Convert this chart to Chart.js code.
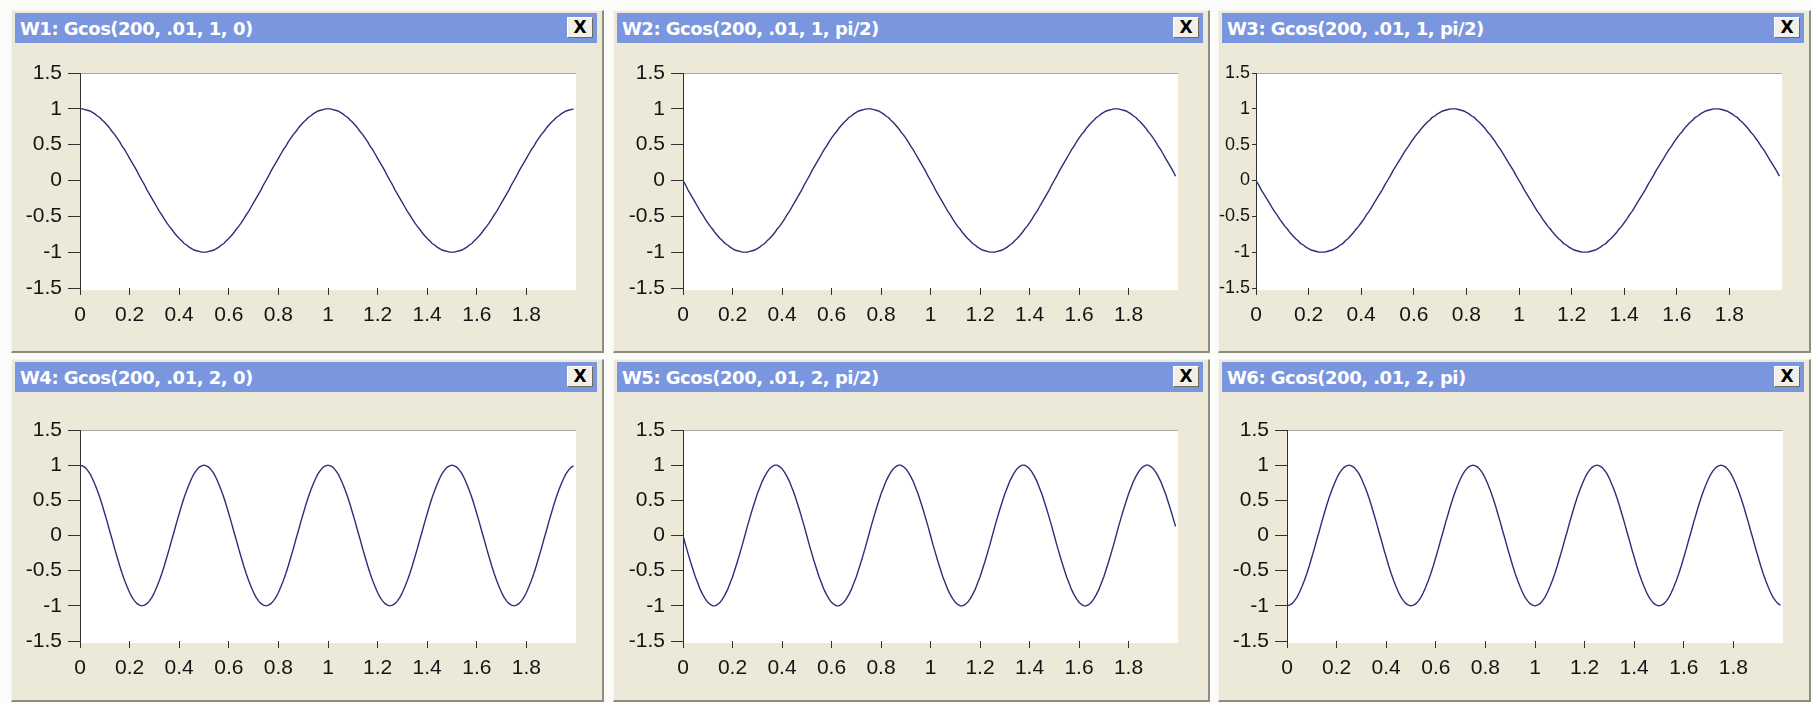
<!DOCTYPE html>
<html><head><meta charset="utf-8">
<script src="https://cdn.jsdelivr.net/npm/chart.js@4.4.1/dist/chart.umd.min.js"></script>
<style>
html,body{margin:0;padding:0;background:#fbfbf9;width:1812px;height:703px;overflow:hidden;}
.panel{position:absolute;background:#ece9d8;box-sizing:border-box;border-top:1px solid #f6f5ef;border-left:1px solid #f6f5ef;border-right:2px solid #8f8d80;border-bottom:2px solid #8f8d80;}
.title{position:absolute;height:30px;background:#7a96df;color:#fff;font:bold 18px "DejaVu Sans";letter-spacing:-0.5px;line-height:31px;padding-left:5px;box-sizing:border-box;white-space:nowrap;}
.close{position:absolute;top:4px;right:4px;width:26px;height:21px;background:#f1efe6;border:1px solid #ffffff;border-right-color:#6d6b60;border-bottom-color:#6d6b60;box-sizing:border-box;font:bold 17px "DejaVu Sans";letter-spacing:0;line-height:19px;text-align:center;color:#000;}
canvas{position:absolute;}
</style></head><body>
<script>
// sample times (s)
const tValues = [0,.01,.02,.03,.04,.05,.06,.07,.08,.09,.1,.11,.12,.13,.14,.15,.16,.17,.18,.19,.2,.21,.22,.23,.24,.25,.26,.27,.28,.29,.3,.31,.32,.33,.34,.35,.36,.37,.38,.39,.4,.41,.42,.43,.44,.45,.46,.47,.48,.49,.5,.51,.52,.53,.54,.55,.56,.57,.58,.59,.6,.61,.62,.63,.64,.65,.66,.67,.68,.69,.7,.71,.72,.73,.74,.75,.76,.77,.78,.79,.8,.81,.82,.83,.84,.85,.86,.87,.88,.89,.9,.91,.92,.93,.94,.95,.96,.97,.98,.99,
1,1.01,1.02,1.03,1.04,1.05,1.06,1.07,1.08,1.09,1.1,1.11,1.12,1.13,1.14,1.15,1.16,1.17,1.18,1.19,1.2,1.21,1.22,1.23,1.24,1.25,1.26,1.27,1.28,1.29,1.3,1.31,1.32,1.33,1.34,1.35,1.36,1.37,1.38,1.39,1.4,1.41,1.42,1.43,1.44,1.45,1.46,1.47,1.48,1.49,1.5,1.51,1.52,1.53,1.54,1.55,1.56,1.57,1.58,1.59,1.6,1.61,1.62,1.63,1.64,1.65,1.66,1.67,1.68,1.69,1.7,1.71,1.72,1.73,1.74,1.75,1.76,1.77,1.78,1.79,1.8,1.81,1.82,1.83,1.84,1.85,1.86,1.87,1.88,1.89,1.9,1.91,1.92,1.93,1.94,1.95,1.96,1.97,1.98,1.99];

const w1Values = [
1,1,.99,.98,.97,.95,.93,.9,.88,.84,.81,.77,.73,.68,.64,.59,.54,.48,.43,.37,.31,.25,.19,.13,.06,
0,-.06,-.13,-.19,-.25,-.31,-.37,-.43,-.48,-.54,-.59,-.64,-.68,-.73,-.77,-.81,-.84,-.88,-.9,-.93,-.95,-.97,-.98,-.99,-1,
-1,-1,-.99,-.98,-.97,-.95,-.93,-.9,-.88,-.84,-.81,-.77,-.73,-.68,-.64,-.59,-.54,-.48,-.43,-.37,-.31,-.25,-.19,-.13,-.06,
0,.06,.13,.19,.25,.31,.37,.43,.48,.54,.59,.64,.68,.73,.77,.81,.84,.88,.9,.93,.95,.97,.98,.99,1,
1,1,.99,.98,.97,.95,.93,.9,.88,.84,.81,.77,.73,.68,.64,.59,.54,.48,.43,.37,.31,.25,.19,.13,.06,
0,-.06,-.13,-.19,-.25,-.31,-.37,-.43,-.48,-.54,-.59,-.64,-.68,-.73,-.77,-.81,-.84,-.88,-.9,-.93,-.95,-.97,-.98,-.99,-1,
-1,-1,-.99,-.98,-.97,-.95,-.93,-.9,-.88,-.84,-.81,-.77,-.73,-.68,-.64,-.59,-.54,-.48,-.43,-.37,-.31,-.25,-.19,-.13,-.06,
0,.06,.13,.19,.25,.31,.37,.43,.48,.54,.59,.64,.68,.73,.77,.81,.84,.88,.9,.93,.95,.97,.98,.99,1];

const w2Values = [
0,-.06,-.13,-.19,-.25,-.31,-.37,-.43,-.48,-.54,-.59,-.64,-.68,-.73,-.77,-.81,-.84,-.88,-.9,-.93,-.95,-.97,-.98,-.99,-1,
-1,-1,-.99,-.98,-.97,-.95,-.93,-.9,-.88,-.84,-.81,-.77,-.73,-.68,-.64,-.59,-.54,-.48,-.43,-.37,-.31,-.25,-.19,-.13,-.06,
0,.06,.13,.19,.25,.31,.37,.43,.48,.54,.59,.64,.68,.73,.77,.81,.84,.88,.9,.93,.95,.97,.98,.99,1,
1,1,.99,.98,.97,.95,.93,.9,.88,.84,.81,.77,.73,.68,.64,.59,.54,.48,.43,.37,.31,.25,.19,.13,.06,
0,-.06,-.13,-.19,-.25,-.31,-.37,-.43,-.48,-.54,-.59,-.64,-.68,-.73,-.77,-.81,-.84,-.88,-.9,-.93,-.95,-.97,-.98,-.99,-1,
-1,-1,-.99,-.98,-.97,-.95,-.93,-.9,-.88,-.84,-.81,-.77,-.73,-.68,-.64,-.59,-.54,-.48,-.43,-.37,-.31,-.25,-.19,-.13,-.06,
0,.06,.13,.19,.25,.31,.37,.43,.48,.54,.59,.64,.68,.73,.77,.81,.84,.88,.9,.93,.95,.97,.98,.99,1,
1,1,.99,.98,.97,.95,.93,.9,.88,.84,.81,.77,.73,.68,.64,.59,.54,.48,.43,.37,.31,.25,.19,.13,.06];

const w3Values = [
0,-.06,-.13,-.19,-.25,-.31,-.37,-.43,-.48,-.54,-.59,-.64,-.68,-.73,-.77,-.81,-.84,-.88,-.9,-.93,-.95,-.97,-.98,-.99,-1,
-1,-1,-.99,-.98,-.97,-.95,-.93,-.9,-.88,-.84,-.81,-.77,-.73,-.68,-.64,-.59,-.54,-.48,-.43,-.37,-.31,-.25,-.19,-.13,-.06,
0,.06,.13,.19,.25,.31,.37,.43,.48,.54,.59,.64,.68,.73,.77,.81,.84,.88,.9,.93,.95,.97,.98,.99,1,
1,1,.99,.98,.97,.95,.93,.9,.88,.84,.81,.77,.73,.68,.64,.59,.54,.48,.43,.37,.31,.25,.19,.13,.06,
0,-.06,-.13,-.19,-.25,-.31,-.37,-.43,-.48,-.54,-.59,-.64,-.68,-.73,-.77,-.81,-.84,-.88,-.9,-.93,-.95,-.97,-.98,-.99,-1,
-1,-1,-.99,-.98,-.97,-.95,-.93,-.9,-.88,-.84,-.81,-.77,-.73,-.68,-.64,-.59,-.54,-.48,-.43,-.37,-.31,-.25,-.19,-.13,-.06,
0,.06,.13,.19,.25,.31,.37,.43,.48,.54,.59,.64,.68,.73,.77,.81,.84,.88,.9,.93,.95,.97,.98,.99,1,
1,1,.99,.98,.97,.95,.93,.9,.88,.84,.81,.77,.73,.68,.64,.59,.54,.48,.43,.37,.31,.25,.19,.13,.06];

const w4Values = [
1,.99,.97,.93,.88,.81,.73,.64,.54,.43,.31,.19,.06,-.06,-.19,-.31,-.43,-.54,-.64,-.73,-.81,-.88,-.93,-.97,-.99,
-1,-.99,-.97,-.93,-.88,-.81,-.73,-.64,-.54,-.43,-.31,-.19,-.06,.06,.19,.31,.43,.54,.64,.73,.81,.88,.93,.97,.99,
1,.99,.97,.93,.88,.81,.73,.64,.54,.43,.31,.19,.06,-.06,-.19,-.31,-.43,-.54,-.64,-.73,-.81,-.88,-.93,-.97,-.99,
-1,-.99,-.97,-.93,-.88,-.81,-.73,-.64,-.54,-.43,-.31,-.19,-.06,.06,.19,.31,.43,.54,.64,.73,.81,.88,.93,.97,.99,
1,.99,.97,.93,.88,.81,.73,.64,.54,.43,.31,.19,.06,-.06,-.19,-.31,-.43,-.54,-.64,-.73,-.81,-.88,-.93,-.97,-.99,
-1,-.99,-.97,-.93,-.88,-.81,-.73,-.64,-.54,-.43,-.31,-.19,-.06,.06,.19,.31,.43,.54,.64,.73,.81,.88,.93,.97,.99,
1,.99,.97,.93,.88,.81,.73,.64,.54,.43,.31,.19,.06,-.06,-.19,-.31,-.43,-.54,-.64,-.73,-.81,-.88,-.93,-.97,-.99,
-1,-.99,-.97,-.93,-.88,-.81,-.73,-.64,-.54,-.43,-.31,-.19,-.06,.06,.19,.31,.43,.54,.64,.73,.81,.88,.93,.97,.99];

const w5Values = [
0,-.13,-.25,-.37,-.48,-.59,-.68,-.77,-.84,-.9,-.95,-.98,-1,-1,-.98,-.95,-.9,-.84,-.77,-.68,-.59,-.48,-.37,-.25,-.13,
0,.13,.25,.37,.48,.59,.68,.77,.84,.9,.95,.98,1,1,.98,.95,.9,.84,.77,.68,.59,.48,.37,.25,.13,
0,-.13,-.25,-.37,-.48,-.59,-.68,-.77,-.84,-.9,-.95,-.98,-1,-1,-.98,-.95,-.9,-.84,-.77,-.68,-.59,-.48,-.37,-.25,-.13,
0,.13,.25,.37,.48,.59,.68,.77,.84,.9,.95,.98,1,1,.98,.95,.9,.84,.77,.68,.59,.48,.37,.25,.13,
0,-.13,-.25,-.37,-.48,-.59,-.68,-.77,-.84,-.9,-.95,-.98,-1,-1,-.98,-.95,-.9,-.84,-.77,-.68,-.59,-.48,-.37,-.25,-.13,
0,.13,.25,.37,.48,.59,.68,.77,.84,.9,.95,.98,1,1,.98,.95,.9,.84,.77,.68,.59,.48,.37,.25,.13,
0,-.13,-.25,-.37,-.48,-.59,-.68,-.77,-.84,-.9,-.95,-.98,-1,-1,-.98,-.95,-.9,-.84,-.77,-.68,-.59,-.48,-.37,-.25,-.13,
0,.13,.25,.37,.48,.59,.68,.77,.84,.9,.95,.98,1,1,.98,.95,.9,.84,.77,.68,.59,.48,.37,.25,.13];

const w6Values = [
-1,-.99,-.97,-.93,-.88,-.81,-.73,-.64,-.54,-.43,-.31,-.19,-.06,.06,.19,.31,.43,.54,.64,.73,.81,.88,.93,.97,.99,
1,.99,.97,.93,.88,.81,.73,.64,.54,.43,.31,.19,.06,-.06,-.19,-.31,-.43,-.54,-.64,-.73,-.81,-.88,-.93,-.97,-.99,
-1,-.99,-.97,-.93,-.88,-.81,-.73,-.64,-.54,-.43,-.31,-.19,-.06,.06,.19,.31,.43,.54,.64,.73,.81,.88,.93,.97,.99,
1,.99,.97,.93,.88,.81,.73,.64,.54,.43,.31,.19,.06,-.06,-.19,-.31,-.43,-.54,-.64,-.73,-.81,-.88,-.93,-.97,-.99,
-1,-.99,-.97,-.93,-.88,-.81,-.73,-.64,-.54,-.43,-.31,-.19,-.06,.06,.19,.31,.43,.54,.64,.73,.81,.88,.93,.97,.99,
1,.99,.97,.93,.88,.81,.73,.64,.54,.43,.31,.19,.06,-.06,-.19,-.31,-.43,-.54,-.64,-.73,-.81,-.88,-.93,-.97,-.99,
-1,-.99,-.97,-.93,-.88,-.81,-.73,-.64,-.54,-.43,-.31,-.19,-.06,.06,.19,.31,.43,.54,.64,.73,.81,.88,.93,.97,.99,
1,.99,.97,.93,.88,.81,.73,.64,.54,.43,.31,.19,.06,-.06,-.19,-.31,-.43,-.54,-.64,-.73,-.81,-.88,-.93,-.97,-.99];

const windowTitles = ['W1: Gcos(200, .01, 1, 0)','W2: Gcos(200, .01, 1, pi/2)','W3: Gcos(200, .01, 1, pi/2)',
                      'W4: Gcos(200, .01, 2, 0)','W5: Gcos(200, .01, 2, pi/2)','W6: Gcos(200, .01, 2, pi)'];
const seriesList = [w1Values, w2Values, w3Values, w4Values, w5Values, w6Values];

const xTickValues = [0,0.2,0.4,0.6,0.8,1,1.2,1.4,1.6,1.8];
const xTickLabels = ['0','0.2','0.4','0.6','0.8','1','1.2','1.4','1.6','1.8'];
const yTickValues = [-1.5,-1,-0.5,0,0.5,1,1.5];
const yTickLabels = ['-1.5','-1','-0.5','0','0.5','1','1.5'];

// ---- layout (page pixels) ----
const colTitleLeft = [15, 617, 1222];
const colTitleWidth = [582, 586, 582];
const rowPanelTop = [10, 359];
const rowPlotTop = [73, 430];
const rowPlotBottom = [288, 641];
const panelAxisX = [80, 683, 1256, 80, 683, 1287];
const panelPlotRight = [576, 1178, 1782, 576, 1178, 1783];
const panelYTick = [12, 12, 4, 12, 12, 12];
const panelYPad = [6, 6, 2, 6, 6, 6];
const panelYFont = [21, 21, 18, 21, 21, 21];
const PANEL_H = 343, TITLE_H = 30;

Chart.defaults.font.family = '"Liberation Sans", Arial, sans-serif';
Chart.defaults.font.size = 21;
Chart.defaults.color = '#141414';

const plotBg = {
  id: 'plotBg',
  beforeDraw(chart) {
    const a = chart.chartArea, c = chart.ctx;
    c.save();
    c.fillStyle = '#ffffff';
    c.fillRect(a.left, a.top, a.right - a.left, a.bottom - a.top + 2);
    c.strokeStyle = '#a8a8a8';
    c.lineWidth = 1;
    c.beginPath();
    c.moveTo(a.left, a.top + 0.5);
    c.lineTo(a.right, a.top + 0.5);
    c.stroke();
    c.restore();
  }
};

for (let i = 0; i < 6; i++) {
  const col = i % 3, row = Math.floor(i / 3);
  const x0 = colTitleLeft[col], tw = colTitleWidth[col];
  const pTop = rowPanelTop[row];
  const panel = document.createElement('div');
  panel.className = 'panel';
  panel.style.left = (x0 - 4) + 'px';
  panel.style.top = pTop + 'px';
  panel.style.width = (tw + 11) + 'px';
  panel.style.height = PANEL_H + 'px';
  document.body.appendChild(panel);

  const title = document.createElement('div');
  title.className = 'title';
  title.style.left = x0 + 'px';
  title.style.top = (pTop + 3) + 'px';
  title.style.width = tw + 'px';
  title.textContent = windowTitles[i];
  const btn = document.createElement('div');
  btn.className = 'close';
  btn.textContent = 'X';
  title.appendChild(btn);
  document.body.appendChild(title);

  const cLeft = x0 - 3, cW = tw + 6;
  const cTop = pTop + 3 + TITLE_H;
  const cH = pTop + PANEL_H - 2 - cTop;
  const canvas = document.createElement('canvas');
  canvas.width = cW; canvas.height = cH;
  canvas.style.left = cLeft + 'px';
  canvas.style.top = cTop + 'px';
  canvas.style.width = cW + 'px';
  canvas.style.height = cH + 'px';
  document.body.appendChild(canvas);

  const padTop = rowPlotTop[row] - cTop;
  const xAxisH = cTop + cH - rowPlotBottom[row];
  const yAxisW = panelAxisX[i] - cLeft;
  const padRight = cLeft + cW - panelPlotRight[i];
  const ys = seriesList[i];

  new Chart(canvas, {
    type: 'line',
    data: {
      datasets: [{
        data: tValues.map((t, k) => ({x: t, y: ys[k]})),
        borderColor: '#2e2e78',
        borderWidth: 1.4,
        pointRadius: 0,
        tension: 0,
        fill: false
      }]
    },
    options: {
      responsive: false,
      animation: false,
      devicePixelRatio: 1,
      layout: {padding: {top: padTop, right: padRight, bottom: 0, left: 0}},
      plugins: {legend: {display: false}, tooltip: {enabled: false}},
      scales: {
        x: {
          type: 'linear', min: 0, max: 2,
          afterBuildTicks: s => { s.ticks = xTickValues.map(v => ({value: v})); },
          afterFit: s => { s.height = xAxisH; },
          ticks: {callback: (v, k) => xTickLabels[k], padding: 8, maxRotation: 0, autoSkip: false},
          grid: {drawOnChartArea: false, drawTicks: true, tickLength: 7, color: '#303030', lineWidth: 1},
          border: {display: false}
        },
        y: {
          type: 'linear', min: -1.5, max: 1.5,
          afterBuildTicks: s => { s.ticks = yTickValues.map(v => ({value: v})); },
          afterFit: s => { s.width = yAxisW; },
          ticks: {callback: (v, k) => yTickLabels[k], padding: panelYPad[i], autoSkip: false, font: {size: panelYFont[i]}},
          grid: {drawOnChartArea: false, drawTicks: true, tickLength: panelYTick[i], color: '#303030', lineWidth: 1},
          border: {display: true, color: '#303030', width: 1}
        }
      }
    },
    plugins: [plotBg]
  });
}
</script>
</body></html>
